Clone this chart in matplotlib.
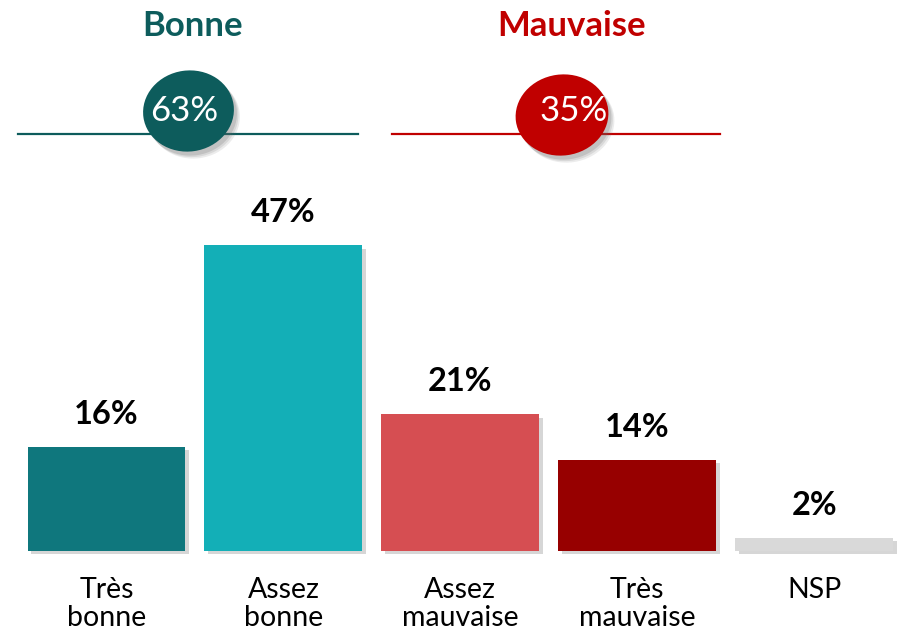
import matplotlib
matplotlib.use('Agg')
import matplotlib.pyplot as plt
import matplotlib.patheffects as pe
from matplotlib.patches import Ellipse

plt.rcParams['font.family'] = ['Lato', 'DejaVu Sans']

# data
categories = ['Très\nbonne', 'Assez\nbonne', 'Assez\nmauvaise', 'Très\nmauvaise', 'NSP']
values = [16, 47, 21, 14, 2]
bar_colors = ['#0F777D', '#13AFB7', '#D64E52', '#970000', '#D9D9D9']
group_names = ['Bonne', 'Mauvaise']
group_values = [63, 35]
group_colors = ['#0D5C5C', '#C00000']

W, H = 905, 631
fig = plt.figure(figsize=(W / 100, H / 100), dpi=100)

# main bar axes spans the figure; limits chosen so bars land where they should
ax = fig.add_axes([0, 0, 1, 1])
step = 176.9
x0 = 106.5
pxy = 6.5
base = 550.7
ax.set_xlim(-x0 / step, (W - x0) / step)
ax.set_ylim(-(H - base) / pxy, base / pxy)
ax.axis('off')

shadow = [pe.SimplePatchShadow(offset=(2.5, -2.5), shadow_rgbFace='#999999', alpha=0.4), pe.Normal()]
xs = list(range(len(values)))
bars = ax.bar(xs, values, width=0.893, color=bar_colors, zorder=2)
for b in bars:
    b.set_path_effects(shadow)

for i, v in enumerate(values):
    ax.annotate(f'{v}%', (i, v), xytext=(0, 23.5), textcoords='offset points',
                ha='center', va='center', fontsize=23.5, fontweight='bold', color='black')
    ax.annotate(categories[i], (i, 0), xytext=(0, -19), textcoords='offset points',
                ha='center', va='top', fontsize=20.5, color='black', linespacing=1.1)

# header overlay in pixel coordinates
hx = fig.add_axes([0, 0, 1, 1])
hx.set_xlim(0, W)
hx.set_ylim(H, 0)
hx.axis('off')
hx.patch.set_alpha(0)

headers = [
    dict(title_x=193, line=(18, 358), ell=(188.5, 111, 91, 81), txt=(184, 111)),
    dict(title_x=572, line=(392, 720), ell=(562, 115, 93, 81), txt=(574, 111)),
]
for name, val, col, h in zip(group_names, group_values, group_colors, headers):
    hx.text(h['title_x'], 26, name, ha='center', va='center', fontsize=25,
            fontweight='bold', color=col)
    hx.plot(h['line'], [134, 134], color=col, lw=1.6, zorder=1)
    cx, cy, ew, eh = h['ell']
    for k, a in [(6, 0.12), (4.5, 0.15), (3, 0.2)]:
        hx.add_patch(Ellipse((cx + k, cy + k + 1), ew, eh, angle=-8, facecolor='#666666',
                             alpha=a, edgecolor='none', zorder=2))
    hx.add_patch(Ellipse((cx, cy), ew, eh, angle=-8, facecolor=col,
                         edgecolor='none', zorder=3))
    hx.text(h['txt'][0], h['txt'][1], f'{val}%', ha='center', va='center',
            fontsize=25, color='white', zorder=4)

fig.savefig('out.png', dpi=100)
